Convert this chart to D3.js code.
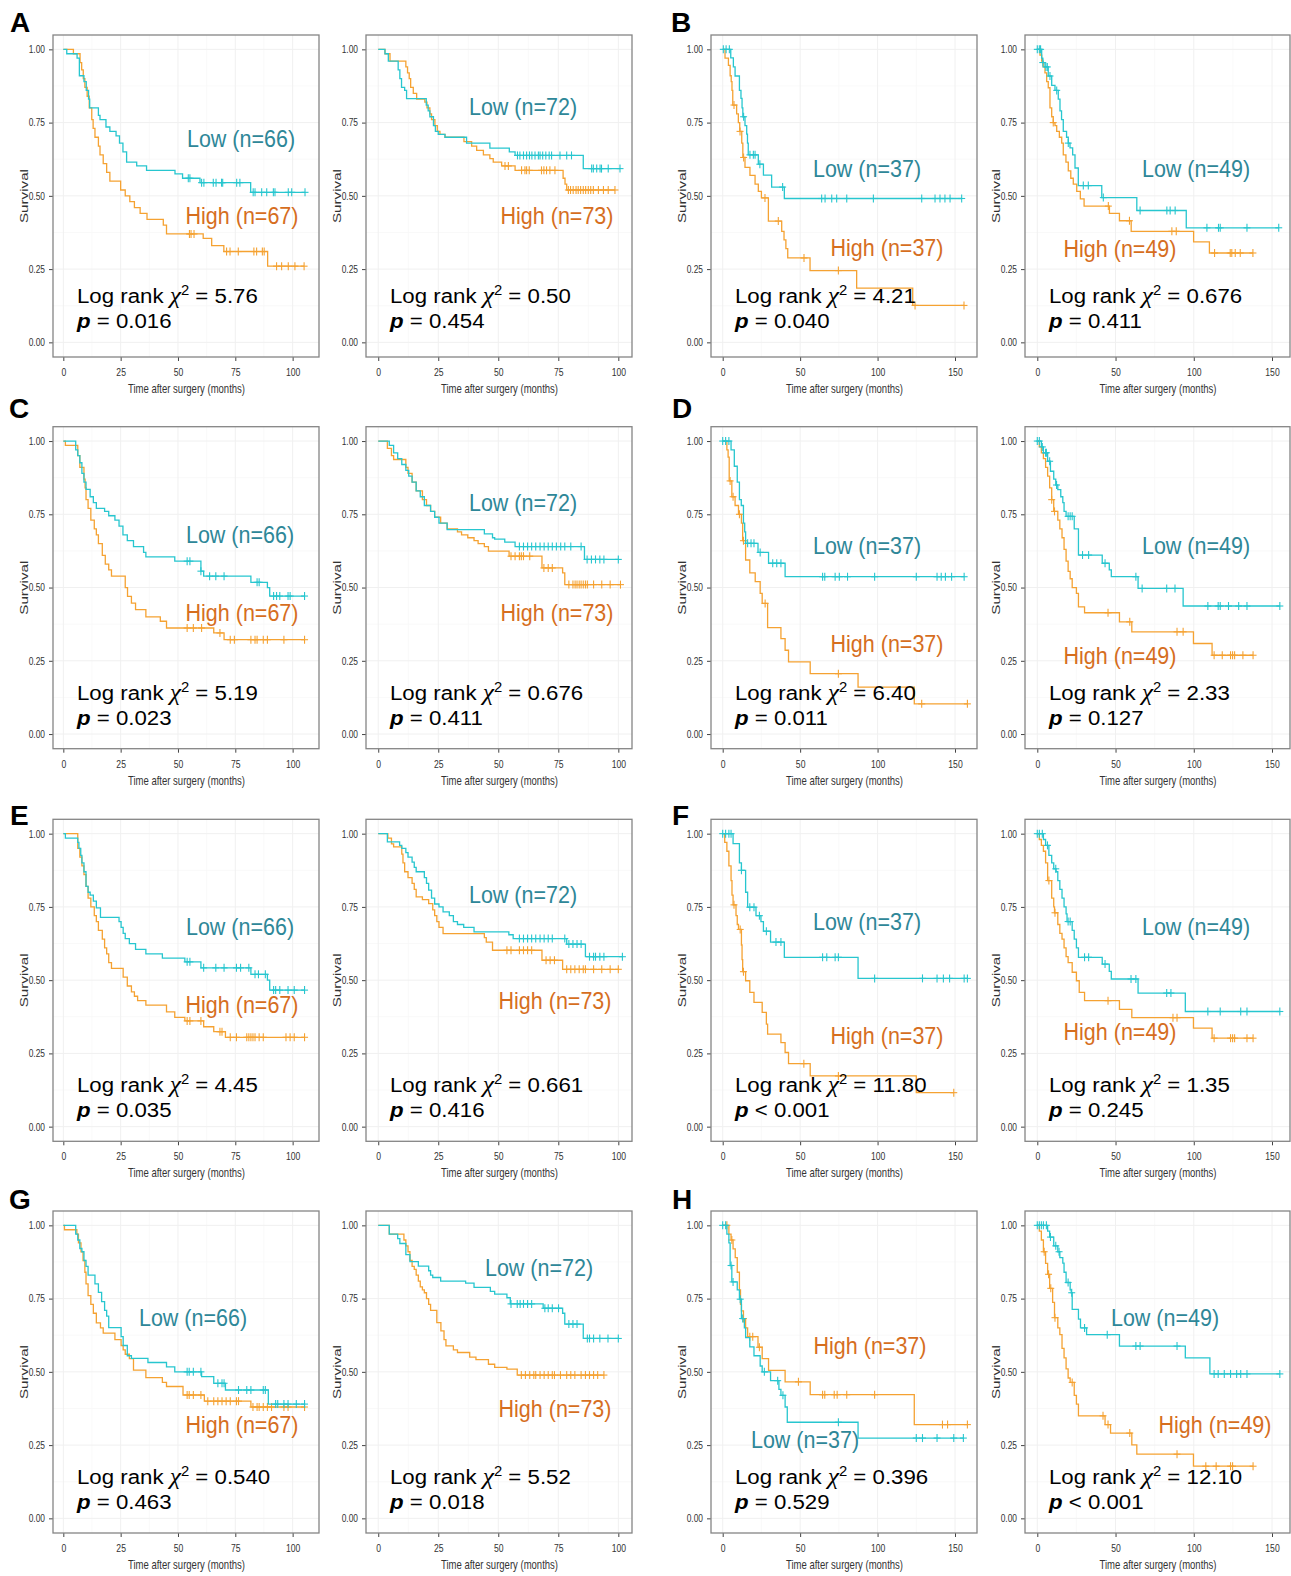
<!DOCTYPE html>
<html><head><meta charset="utf-8">
<script src="https://cdn.jsdelivr.net/npm/d3@7"></script>
<style>body{margin:0;background:#fff} svg{display:block}</style>
</head><body>
<svg id="chart" width="1291" height="1576"></svg>
<script>
// ---------------- DATA ----------------
const panelIds = ["A1","A2","B1","B2","C1","C2","D1","D2","E1","E2","F1","F2","G1","G2","H1","H2"];
const letters = ["A","B","C","D","E","F","G","H"];
const lowN  = [66,72,37,49,66,72,37,49,66,72,37,49,66,72,37,49];
const highN = [67,73,37,49,67,73,37,49,67,73,37,49,67,73,37,49];
const chiSq = ["5.76","0.50","4.21","0.676","5.19","0.676","6.40","2.33","4.45","0.661","11.80","1.35","0.540","5.52","0.396","12.10"];
const pText = ["= 0.016","= 0.454","= 0.040","= 0.411","= 0.023","= 0.411","= 0.011","= 0.127","= 0.035","= 0.416","< 0.001","= 0.245","= 0.463","= 0.018","= 0.529","< 0.001"];
const yTicks = [0,0.25,0.5,0.75,1];
const xTicks100 = [0,25,50,75,100];
const xTicks150 = [0,50,100,150];
const yTitle = "Survival";
const xTitle = "Time after surgery (months)";

// Kaplan-Meier steps [time, survival] and censor times
const stepsA1Low = [[1.5,0.985],[6,0.97],[7,0.91],[9,0.89],[10,0.86],[11,0.83],[11.5,0.80],[15.3,0.775],[16,0.76],[18.6,0.735],[20.3,0.72],[23,0.705],[24.5,0.68],[26,0.65],[27.6,0.615],[32,0.602],[36.3,0.587],[48.7,0.575],[52,0.56],[59.6,0.545],[81.7,0.512]];
const censA1Low = [54.5,55.2,60.3,61.3,65.4,66.6,69,69.5,75.6,77,82.8,83.6,86.5,88.7,91.6,92.3,98.1,99.6,105.4];
const stepsA1High = [[4.4,0.985],[7.3,0.955],[8,0.93],[8.7,0.90],[9.4,0.87],[10.4,0.84],[11.3,0.80],[12.4,0.76],[13,0.73],[13.8,0.70],[15.3,0.67],[16,0.64],[17.4,0.61],[18.9,0.58],[20.3,0.55],[25,0.52],[27,0.50],[29,0.48],[31,0.46],[33.5,0.44],[36.5,0.42],[43.6,0.40],[45,0.37],[61,0.355],[64.7,0.33],[70,0.31],[89.1,0.26]];
const censA1High = [55,55.7,57,71.2,72.7,76.3,83.1,84.3,86.8,87.6,93,95.2,98.1,101,105];

const stepsA2Low = [[2.8,0.985],[4.2,0.96],[8.3,0.93],[9,0.90],[9.7,0.87],[11,0.86],[11.8,0.832],[20,0.81],[20.8,0.79],[21.5,0.77],[23,0.74],[23.8,0.72],[25,0.71],[27.8,0.70],[36.8,0.68],[46.5,0.663],[54.6,0.65],[57,0.638],[85.4,0.593]];
const censA2Low = [58,59,60.5,61.8,63,64,65.3,66.7,67.4,68.5,69.8,71.2,72.2,75.7,78.5,80.5,88.9,89.6,91,92.4,93,95.8,100.7];
const stepsA2High = [[2.8,0.985],[4.9,0.96],[11.5,0.94],[12.2,0.92],[12.9,0.90],[13.5,0.87],[14.6,0.85],[16,0.83],[19.4,0.82],[20.3,0.80],[21.5,0.78],[22.2,0.76],[23.6,0.74],[24.6,0.72],[25.7,0.71],[27.8,0.70],[35.7,0.685],[38.9,0.67],[41,0.655],[43.8,0.64],[46.5,0.627],[47.9,0.615],[51.4,0.602],[57,0.587],[77,0.56],[77.8,0.54],[78.5,0.52]];
const censA2High = [52.8,54.2,59.7,61.1,61.8,62.9,68,69,70.1,71.5,73.6,79.2,80.1,81.2,82.4,83.3,84.3,85.4,86.4,87.5,88.5,89.6,91.7,93.8,95.8,98.6];

const stepsB1Low = [[5.2,0.971],[6.9,0.94],[8,0.909],[10.8,0.86],[11.8,0.833],[12.5,0.80],[13,0.77],[14.4,0.74],[15.5,0.711],[16,0.68],[16.5,0.64],[23,0.608],[26.3,0.571],[31.6,0.53],[39.8,0.491]];
const censB1Low = [0.4,2.2,4.3,13.5,17.6,19.8,20.9,24,38.7,63.9,66.1,70.4,73.6,80.1,97.3,128.5,137.1,140.3,143.5,146.8,154.3];
const stepsB1High = [[1.5,0.97],[3.7,0.945],[4.8,0.91],[5.5,0.89],[6,0.86],[6.5,0.81],[9,0.78],[10.1,0.75],[11,0.72],[12.3,0.68],[13,0.631],[14.4,0.597],[17.6,0.57],[20.9,0.54],[23,0.515],[25,0.493],[29.5,0.414],[38.1,0.379],[39.6,0.35],[40.8,0.32],[42,0.288],[56.4,0.245],[86.5,0.185],[122.7,0.126]];
const censB1High = [7.3,11.2,13.5,27.3,35.9,52.5,74.7,124.2,155.8];

const stepsB2Low = [[2.8,0.97],[3.5,0.955],[4.9,0.94],[7,0.909],[9.2,0.877],[11.3,0.86],[13.4,0.83],[14.5,0.79],[15.5,0.76],[16.6,0.72],[18.7,0.70],[19.8,0.68],[20.9,0.664],[22.6,0.64],[24.1,0.595],[26.2,0.535],[41.2,0.494],[63.6,0.45],[95.2,0.391]];
const censB2Low = [0,1.3,2.1,3.5,5.5,6.4,8.1,12.4,19.8,29.4,32.6,42.2,65.7,82.8,84.9,88.1,108.4,115.8,116.9,134,154.3];
const stepsB2High = [[1.7,0.98],[2.8,0.96],[3.8,0.94],[4.9,0.92],[6,0.89],[7,0.869],[8.1,0.80],[9.2,0.77],[10.2,0.75],[11.3,0.74],[12.4,0.72],[14.1,0.70],[15.6,0.68],[16.6,0.64],[18.3,0.615],[19.8,0.585],[21.4,0.56],[23,0.54],[25.2,0.515],[27.5,0.49],[29.9,0.465],[46.1,0.44],[52.5,0.415],[60,0.379],[99.9,0.343],[110,0.305]];
const censB2High = [10.2,45.4,58.9,86,88.8,113.3,123.3,124.3,126.5,129.7,137.8];

const stepsC1Low = [[5.4,0.97],[6.3,0.95],[7.2,0.926],[8.1,0.89],[9,0.86],[9.9,0.835],[11.7,0.81],[13.1,0.79],[14.4,0.77],[18,0.76],[19.8,0.745],[22.5,0.73],[24.3,0.71],[26,0.68],[27.9,0.66],[30.6,0.64],[35,0.62],[36,0.605],[48.6,0.59],[60,0.556],[61.2,0.539],[81.8,0.518],[89,0.50],[90,0.471]];
const censC1Low = [54,55.2,60,63.8,66.5,70.1,84.5,85.4,91.7,93,94.4,98,98.9,105.2];
const stepsC1High = [[0.9,0.985],[6.3,0.95],[7.2,0.91],[9,0.87],[9.5,0.84],[9.9,0.80],[10.8,0.77],[12,0.73],[13.5,0.70],[14.4,0.68],[15.3,0.65],[17,0.61],[18.3,0.58],[19.8,0.56],[21,0.539],[27,0.50],[28,0.47],[29.7,0.447],[31.5,0.425],[36,0.40],[42.3,0.385],[45,0.362],[65.6,0.345],[70.1,0.322]];
const censC1High = [54,56.7,60.3,68.3,72.8,74.6,81.8,83.6,84.5,87.2,89,96.2,105.2];

const stepsC2Low = [[4.6,0.985],[6.4,0.96],[8.1,0.94],[9.8,0.92],[11.5,0.90],[12.7,0.88],[14.1,0.86],[15.8,0.83],[17.5,0.81],[19.2,0.78],[21.8,0.76],[23.5,0.74],[25.3,0.72],[28.7,0.698],[44.2,0.683],[47.6,0.67],[48.5,0.665],[52.7,0.655],[57,0.64],[85.9,0.596]];
const censC2Low = [58.8,60.5,62.2,63.9,65.6,67.4,69.1,70.8,72.5,74.2,76,77.7,80.2,84.5,87,88.8,90.5,92.3,94,100];
const stepsC2High = [[3.8,0.975],[5.5,0.95],[6.4,0.937],[11.5,0.91],[12.4,0.89],[14.1,0.86],[15.8,0.83],[18.4,0.80],[20.1,0.78],[21.8,0.76],[23.5,0.74],[26,0.72],[28.7,0.70],[33,0.69],[34.7,0.68],[37.3,0.67],[39.9,0.66],[41.6,0.65],[44.2,0.64],[45.9,0.624],[54.5,0.607],[68.2,0.567],[76.8,0.55],[77.7,0.51]];
const censC2High = [55.3,57,58.8,59.6,60.5,63.1,69,70.8,72.5,79.4,81.1,82,82.8,83.7,84.5,85.4,86.3,87.1,89.7,93.1,96.6,100.9];

const stepsD1Low = [[5.4,0.97],[7.5,0.914],[9.4,0.86],[10.8,0.80],[12,0.78],[13.4,0.72],[14.2,0.69],[14.8,0.651],[22.8,0.62],[29.6,0.583],[40.3,0.537]];
const censD1Low = [0,1.9,4,16.1,18.3,20.2,24.2,32.3,34.9,37.6,64.5,65.9,72.6,75.3,80.6,98.1,125,138.4,141.1,143.8,147.8,155.9];
const stepsD1High = [[2.7,0.97],[3.5,0.945],[4.2,0.864],[5.9,0.81],[8,0.78],[10.2,0.75],[12.1,0.72],[12.9,0.66],[14.8,0.594],[17.5,0.55],[21,0.52],[24.2,0.48],[25.5,0.446],[29,0.363],[37.6,0.326],[40.3,0.286],[42.5,0.246],[56.5,0.206],[87.4,0.16],[123.7,0.103]];
const censD1High = [4.8,6.7,10.8,13.4,27.4,74.7,128.5,158];

const stepsD2Low = [[2.6,0.98],[3.9,0.96],[6.6,0.931],[8.4,0.897],[10.5,0.87],[11.8,0.85],[13.1,0.834],[15,0.81],[16.3,0.79],[17.1,0.76],[18.4,0.743],[23.6,0.70],[26.3,0.611],[41.5,0.583],[46,0.56],[47.3,0.537],[64.4,0.497],[93.2,0.437]];
const censD2Low = [0,1.3,3.2,5.3,5.8,7.9,12.3,19.7,21,22.3,28.9,32.8,43.3,63,67,82.7,88,109,115.6,116.9,122.2,128.7,134,155];
const stepsD2High = [[1.3,0.98],[2.6,0.96],[3.9,0.94],[5.3,0.91],[6.6,0.88],[7.9,0.84],[9.2,0.80],[10.5,0.76],[13.1,0.73],[14.4,0.70],[15.8,0.67],[17.1,0.63],[18.4,0.59],[19.7,0.555],[21,0.53],[22.3,0.50],[25,0.48],[26.3,0.434],[30.2,0.414],[52.5,0.383],[60.4,0.349],[99.8,0.309],[111.7,0.269]];
const censD2High = [9.2,11,45.2,59.1,89.3,93.2,113,118.2,123.5,124.8,126.1,131.4,137.9];

const stepsE1Low = [[0.9,0.985],[6.3,0.97],[6.8,0.95],[7.6,0.926],[8.1,0.90],[9,0.87],[9.9,0.82],[10.8,0.80],[11.7,0.79],[13.1,0.77],[14.4,0.747],[16.2,0.714],[24.3,0.70],[25.2,0.68],[26.1,0.66],[27,0.642],[28.8,0.625],[31.5,0.605],[36,0.59],[43.2,0.575],[53,0.5625],[60,0.542],[81.8,0.52],[89,0.50],[90,0.466]];
const censE1Low = [54,55.2,61.2,66.5,70.1,75.5,77.3,80.9,83.6,85.1,88.1,91.7,92.6,94.4,98,100.7,105.2];
const stepsE1High = [[6.3,0.95],[7.2,0.92],[8.1,0.89],[9,0.86],[9.9,0.82],[10.8,0.78],[12,0.75],[13.5,0.72],[14.4,0.70],[15.3,0.67],[17,0.64],[18,0.61],[18.9,0.59],[19.8,0.56],[21,0.54],[26.1,0.51],[27.9,0.48],[29.7,0.46],[31,0.445],[32.4,0.43],[36,0.415],[45,0.392],[48.6,0.373],[53,0.361],[61.2,0.341],[65.6,0.324],[70.7,0.305]];
const censE1High = [54,55.2,60,68.3,69.2,72.8,75.5,80,80.9,81.8,82.7,83.6,85.4,87.2,97.1,98.9,100.7,105.2];

const stepsE2Low = [[3.8,0.972],[8.9,0.96],[9.8,0.95],[11.5,0.935],[12.4,0.92],[14.1,0.903],[15,0.885],[15.8,0.87],[19.2,0.85],[20.1,0.83],[21,0.807],[22.2,0.78],[23.5,0.76],[25.3,0.75],[27,0.733],[29.6,0.72],[31.3,0.70],[33,0.69],[35.6,0.68],[39.9,0.665],[54.4,0.655],[56.2,0.642],[78.5,0.623],[86.3,0.58]];
const censE2Low = [58.8,60.5,62.2,63.9,65.6,67.4,69.1,70.8,72.5,77.7,79.4,81.1,82.8,84.5,88,89.7,90.5,92.3,94,101.7];
const stepsE2High = [[4,0.985],[5.5,0.965],[6.4,0.955],[9.8,0.93],[10.3,0.90],[11,0.87],[12.4,0.85],[14.1,0.83],[15,0.81],[15.8,0.784],[18.4,0.775],[21,0.761],[22.7,0.74],[23.5,0.72],[24.4,0.70],[25.3,0.68],[27,0.659],[44.2,0.645],[45,0.63],[47.6,0.602],[68.2,0.568],[76.8,0.537]];
const censE2High = [53.6,55.3,58.8,60.5,62.2,63.9,69.9,71.6,73.4,78.5,80.2,81.9,83.7,85.4,86.3,89.7,93.1,96.6,100];

const stepsF1Low = [[6.7,0.966],[10.8,0.90],[12.1,0.875],[14.8,0.80],[16.1,0.749],[21.5,0.72],[24.7,0.70],[26.3,0.667],[30.9,0.63],[39.8,0.578],[87.4,0.506]];
const censF1Low = [0,1.9,4,5.4,12.1,17.5,20.2,23.7,28.2,34.4,37.6,64.5,67.2,72.6,74.7,98.1,129,138.4,142.5,146.5,155.9,158];
const stepsF1High = [[1.3,0.97],[2.7,0.94],[4,0.89],[5.4,0.84],[6,0.79],[6.7,0.757],[8.6,0.72],[9.4,0.69],[10.2,0.673],[12.1,0.62],[12.5,0.57],[12.9,0.529],[14.8,0.498],[17.5,0.458],[20.2,0.424],[25.5,0.39],[28.2,0.35],[29,0.316],[37.6,0.287],[40.3,0.253],[42.5,0.215],[56.5,0.173],[125,0.116]];
const censF1High = [7.3,11.3,13.4,52.4,74.7,149.2];

const stepsF2Low = [[3.9,0.98],[5.3,0.96],[7.4,0.926],[9.2,0.90],[10.5,0.88],[12,0.87],[13.1,0.84],[14.4,0.81],[15.8,0.78],[17.1,0.75],[18.4,0.726],[19,0.70],[22.3,0.67],[23.6,0.64],[25,0.61],[26.3,0.578],[41.5,0.555],[46,0.53],[47.3,0.504],[64.4,0.456],[94.6,0.393]];
const censF2Low = [0,1.3,3.2,6.5,11.8,19.7,21,30.2,32.8,43.3,59.9,63,82.7,85.4,109,116.9,130,134,155];
const stepsF2High = [[1.3,0.98],[2.6,0.96],[3.9,0.94],[5.3,0.90],[6.6,0.84],[9.2,0.78],[10.5,0.75],[11,0.73],[13.1,0.69],[14.4,0.66],[15.8,0.64],[17.1,0.61],[18.4,0.58],[19.7,0.56],[22.3,0.527],[25,0.498],[26.8,0.458],[30.2,0.43],[52.5,0.40],[60.4,0.372],[99.8,0.336],[111.7,0.302]];
const censF2High = [7.4,11.3,45.2,86.7,89.3,113,123.5,124.8,126.1,134,137.9];

const stepsG1Low = [[5.4,0.97],[6.3,0.95],[7.2,0.921],[8.1,0.91],[9,0.88],[9.9,0.86],[10.8,0.83],[13.8,0.80],[15.3,0.771],[16.7,0.74],[18,0.71],[18.9,0.69],[19.8,0.651],[25.2,0.62],[26.1,0.59],[27.9,0.555],[29.7,0.546],[36.9,0.532],[45,0.517],[48.6,0.50],[60.3,0.484],[65.6,0.461],[70.7,0.438],[89.4,0.39]];
const censG1Low = [54,54.9,56.7,60,67.4,69.2,70.1,76.4,80,81.8,87.2,88.1,92.6,93.5,96.2,98,101.6,105.2];
const stepsG1High = [[0.5,0.985],[5.9,0.97],[6.6,0.94],[7.7,0.91],[8.6,0.88],[9.4,0.84],[9.9,0.80],[10.8,0.76],[12,0.73],[13.1,0.70],[14.4,0.667],[16.2,0.65],[17.4,0.632],[22.5,0.61],[25.2,0.59],[26.1,0.575],[27,0.56],[28.8,0.545],[30.6,0.506],[36,0.48],[43.2,0.464],[45,0.45],[52.2,0.421],[61.5,0.40],[81.8,0.38]];
const censG1High = [54,54.9,56.7,60,63,65.6,67.4,69.2,71,72.8,75.5,76.4,82.7,84.5,85.4,87.2,89,90.8,96.2,98,105.2];

const stepsG2Low = [[4.6,0.97],[8.1,0.955],[9,0.938],[11.5,0.90],[13.2,0.876],[16.7,0.861],[21,0.845],[21.8,0.83],[22.7,0.822],[26,0.81],[36.4,0.803],[39.9,0.788],[46.7,0.775],[48.5,0.765],[53.6,0.753],[55,0.732],[68.7,0.717],[76.8,0.70],[77.7,0.663],[85.4,0.614]];
const censG2Low = [55.3,57.9,59.1,60.5,62.2,63.9,69.4,70.8,72.5,75.1,79.4,81.1,82.8,87.1,88,89.7,92.3,95.7,100];
const stepsG2High = [[4.6,0.97],[10.7,0.95],[11.5,0.93],[12.4,0.91],[13.2,0.88],[14.1,0.86],[15,0.85],[15.8,0.83],[16.7,0.81],[17.5,0.79],[18.4,0.78],[19.2,0.77],[20.1,0.75],[21,0.73],[21.8,0.71],[24.4,0.668],[26.1,0.64],[27.4,0.61],[28.2,0.589],[31.3,0.575],[33,0.566],[38.1,0.55],[40.7,0.542],[45.9,0.526],[48.5,0.515],[53.6,0.509],[57.9,0.489]];
const censG2High = [59.6,61.3,63.1,64.8,65.6,67.4,69.1,70.8,72.5,73.4,75.9,78.5,80.2,81.9,84.5,86.3,88,89.7,91.4,94];

const stepsH1Low = [[2.7,0.97],[4,0.94],[4.8,0.863],[5.9,0.807],[9.4,0.78],[10.8,0.748],[12.1,0.682],[14,0.65],[14.8,0.617],[17.5,0.585],[20.2,0.555],[24.2,0.52],[25.5,0.50],[30.9,0.47],[36.3,0.44],[37.6,0.42],[40.3,0.38],[41.7,0.328],[87.4,0.274]];
const censH1Low = [0,1.9,5.4,6.7,11.3,12.9,26.9,35.5,38.9,74.7,125,129,138.4,149.2,155.4];
const stepsH1High = [[4,0.97],[5.4,0.95],[6.7,0.92],[8.1,0.89],[9.4,0.84],[10.8,0.78],[11.5,0.73],[12.1,0.708],[13.4,0.682],[14.8,0.65],[16.1,0.62],[22.8,0.584],[25.5,0.545],[29.6,0.505],[40.3,0.466],[56.5,0.422],[123.7,0.32]];
const censH1High = [2.7,5.9,13.4,17.5,19.4,23.7,48.9,64.5,65.9,72,73.9,80.1,98.1,141.9,145.2,158];

const stepsH2Low = [[6.6,0.98],[7.9,0.96],[10.5,0.93],[13.1,0.91],[14.4,0.89],[16.3,0.871],[17.1,0.84],[18.4,0.805],[21,0.78],[21.7,0.77],[22.3,0.713],[26.3,0.68],[27.6,0.65],[31.5,0.627],[52.5,0.588],[94.6,0.548],[110.3,0.493]];
const censH2Low = [0,1.3,2.6,3.9,5.8,8.4,11.8,13.9,19.7,22,30.2,44.7,63,65.7,89.3,113,115.6,119.5,123.5,127.4,130,134,155];
const stepsH2High = [[1.3,0.98],[2.6,0.95],[3.9,0.91],[5.3,0.87],[6.6,0.833],[7.9,0.785],[9.8,0.737],[11,0.685],[13.1,0.65],[14.4,0.627],[15.8,0.58],[17.1,0.548],[18.4,0.51],[19.7,0.479],[21,0.464],[23.6,0.42],[25,0.39],[26.3,0.35],[43.3,0.32],[46.8,0.291],[60.4,0.251],[63.6,0.219],[99.8,0.178]];
const censH2High = [4.4,7.2,8.6,11.3,22.3,42,45.2,59.1,89.3,107.7,114.3,123.5,124.8,137.9];

const curveTable = {
  A1:[stepsA1Low,censA1Low,stepsA1High,censA1High], A2:[stepsA2Low,censA2Low,stepsA2High,censA2High],
  B1:[stepsB1Low,censB1Low,stepsB1High,censB1High], B2:[stepsB2Low,censB2Low,stepsB2High,censB2High],
  C1:[stepsC1Low,censC1Low,stepsC1High,censC1High], C2:[stepsC2Low,censC2Low,stepsC2High,censC2High],
  D1:[stepsD1Low,censD1Low,stepsD1High,censD1High], D2:[stepsD2Low,censD2Low,stepsD2High,censD2High],
  E1:[stepsE1Low,censE1Low,stepsE1High,censE1High], E2:[stepsE2Low,censE2Low,stepsE2High,censE2High],
  F1:[stepsF1Low,censF1Low,stepsF1High,censF1High], F2:[stepsF2Low,censF2Low,stepsF2High,censF2High],
  G1:[stepsG1Low,censG1Low,stepsG1High,censG1High], G2:[stepsG2Low,censG2Low,stepsG2High,censG2High],
  H1:[stepsH1Low,censH1Low,stepsH1High,censH1High], H2:[stepsH2Low,censH2Low,stepsH2High,censH2High]
};

// ---------------- LAYOUT ----------------
const W = 1291, H = 1576;
const colLeft = [53, 366, 711, 1025];
const boxW = [266, 266, 266, 265];
const rowTop = [35, 426.7, 819.3, 1211];
const boxH = 322;
const colDomain = [[-4.5,111.5],[-5.1,105.7],[-7.55,164.2],[-7.86,161.5]];
const yDomain = [-0.05, 1.049];
const letterPos = [[10,31.5],[671,32],[9,418],[672,418],[10,825],[672,825],[9,1209],[672,1209]];
// label anchors: [centre x, baseline y]
const lowLabelPos  = [[241,147],[523,115],[867,177],[1196,177],[240,543],[523,511],[867,554],[1196,554],[240,935],[523,903],[867,930],[1196,935],[193,1326],[539,1276],[805,1448],[1165,1326]];
const highLabelPos = [[242,224],[557,224],[887,256],[1120,257],[242,621],[557,621],[887,652],[1120,664],[242,1013],[555,1009],[887,1044],[1120,1040],[242,1433],[555,1417],[870,1354],[1215,1433]];
const statBaseline = [303, 700, 1092, 1484];

const colLowLine = "#27c6cf", colHighLine = "#f5a232";
const colLowText = "#2e8798", colHighText = "#d66e1e";
const sans = "'Liberation Sans',Arial,Helvetica,sans-serif";

const svg = d3.select("#chart").attr("viewBox", `0 0 ${W} ${H}`);
svg.append("rect").attr("width", W).attr("height", H).attr("fill", "#fff");

function survAt(steps, t) {
  let s = 1;
  for (const [tt, ss] of steps) { if (tt <= t) s = ss; else break; }
  return s;
}

panelIds.forEach((id, i) => {
  const row = Math.floor(i / 4), col = i % 4;
  const left = colLeft[col], top = rowTop[row], w = boxW[col], h = boxH;
  const x = d3.scaleLinear().domain(colDomain[col]).range([left, left + w]);
  const y = d3.scaleLinear().domain(yDomain).range([top + h, top]);
  const xt = col < 2 ? xTicks100 : xTicks150;
  const g = svg.append("g").attr("class", "panel-" + id);

  // grid (minor + major)
  const xMinor = d3.pairs(xt).map(([a, b]) => (a + b) / 2);
  const yMinor = d3.pairs(yTicks).map(([a, b]) => (a + b) / 2);
  g.selectAll(".gxm").data(xMinor).join("line").attr("x1", d => x(d)).attr("x2", d => x(d))
    .attr("y1", top).attr("y2", top + h).attr("stroke", "#f7f7f7").attr("stroke-width", 0.8);
  g.selectAll(".gym").data(yMinor).join("line").attr("y1", d => y(d)).attr("y2", d => y(d))
    .attr("x1", left).attr("x2", left + w).attr("stroke", "#f7f7f7").attr("stroke-width", 0.8);
  g.selectAll(".gx").data(xt).join("line").attr("x1", d => x(d)).attr("x2", d => x(d))
    .attr("y1", top).attr("y2", top + h).attr("stroke", "#f0f0f0").attr("stroke-width", 1);
  g.selectAll(".gy").data(yTicks).join("line").attr("y1", d => y(d)).attr("y2", d => y(d))
    .attr("x1", left).attr("x2", left + w).attr("stroke", "#f0f0f0").attr("stroke-width", 1);

  // axes (condensed tick labels)
  const ya = g.append("g").attr("transform", `translate(${left},0)`)
    .call(d3.axisLeft(y).tickValues(yTicks).tickFormat(d3.format(".2f")).tickSize(4).tickPadding(2));
  ya.select(".domain").remove();
  ya.selectAll("line").attr("stroke", "#444");
  ya.selectAll("text").attr("x", -10).attr("transform", "scale(0.8,1)")
    .attr("font-family", sans).attr("font-size", 10.5).attr("fill", "#333");
  const xa = g.append("g").attr("transform", `translate(0,${top + h})`)
    .call(d3.axisBottom(x).tickValues(xt).tickFormat(d3.format("d")).tickSize(4).tickPadding(7));
  xa.select(".domain").remove();
  xa.selectAll("line").attr("stroke", "#444");
  xa.selectAll("text").attr("transform", "scale(0.75,1)")
    .attr("font-family", sans).attr("font-size", 11.5).attr("fill", "#333");

  // axis titles
  g.append("text").attr("transform", `translate(${left - 29},${top + h / 2}) rotate(-90)`)
    .attr("text-anchor", "middle").attr("dy", "0.35em")
    .attr("font-family", sans).attr("font-size", 10.5).attr("fill", "#333")
    .attr("textLength", 54).attr("lengthAdjust", "spacingAndGlyphs").text(yTitle);
  g.append("text").attr("x", left + w / 2 - 58).attr("y", top + h + 36)
    .attr("font-family", sans).attr("font-size", 13).attr("fill", "#333")
    .attr("textLength", 117).attr("lengthAdjust", "spacingAndGlyphs").text(xTitle);

  // curves
  const [sLow, cLow, sHigh, cHigh] = curveTable[id];
  const line = d3.line().x(d => x(d[0])).y(d => y(d[1])).curve(d3.curveStepAfter);
  const drawCurve = (steps, cens, color) => {
    const end = Math.max(steps[steps.length - 1][0], d3.max(cens));
    const pts = [[0, 1], ...steps, [end, steps[steps.length - 1][1]]];
    g.append("path").attr("d", line(pts)).attr("fill", "none").attr("stroke", color).attr("stroke-width", 1.3);
    const cg = g.append("g").attr("stroke", color).attr("stroke-width", 1.1);
    cens.forEach(t => {
      const cx = x(t), cy = y(survAt(steps, t));
      cg.append("line").attr("x1", cx).attr("x2", cx).attr("y1", cy - 4).attr("y2", cy + 4);
      cg.append("line").attr("x1", cx - 3.5).attr("x2", cx + 3.5).attr("y1", cy).attr("y2", cy);
    });
  };
  drawCurve(sHigh, cHigh, colHighLine);
  drawCurve(sLow, cLow, colLowLine);

  // panel border
  g.append("rect").attr("x", left).attr("y", top).attr("width", w).attr("height", h)
    .attr("fill", "none").attr("stroke", "#858585").attr("stroke-width", 1.3);

  // group labels
  const lp = lowLabelPos[i], hp = highLabelPos[i];
  g.append("text").attr("transform", `translate(${lp[0]},${lp[1]}) scale(1,1.1)`)
    .attr("text-anchor", "middle").attr("font-family", sans).attr("font-size", 21.5)
    .attr("fill", colLowText).text(`Low (n=${lowN[i]})`);
  g.append("text").attr("transform", `translate(${hp[0]},${hp[1]}) scale(1,1.1)`)
    .attr("text-anchor", "middle").attr("font-family", sans).attr("font-size", 21.5)
    .attr("fill", colHighText).text(`High (n=${highN[i]})`);

  // statistics
  const sx = left + 24, sb = statBaseline[row];
  const t1 = g.append("text").attr("transform", `translate(${sx},${sb}) scale(1.06,1)`)
    .attr("font-family", sans).attr("font-size", 21).attr("fill", "#000");
  t1.append("tspan").text("Log rank ");
  t1.append("tspan").attr("font-family", "'Liberation Serif','DejaVu Serif',serif").attr("font-style", "italic").attr("font-size", 24).text("\u03C7");
  t1.append("tspan").attr("dy", -8).attr("font-size", 14).text("2");
  t1.append("tspan").attr("dy", 8).text(" = " + chiSq[i]);
  const t2 = g.append("text").attr("transform", `translate(${sx},${sb + 25}) scale(1.06,1)`)
    .attr("font-family", sans).attr("font-size", 21).attr("fill", "#000");
  t2.append("tspan").attr("font-style", "italic").attr("font-weight", "bold").text("p");
  t2.append("tspan").text(" " + pText[i]);
});

// panel letters
letters.forEach((L, k) => {
  svg.append("text").attr("x", letterPos[k][0]).attr("y", letterPos[k][1])
    .attr("font-family", sans).attr("font-weight", "bold").attr("font-size", 28).attr("fill", "#000").text(L);
});
</script>
</body></html>
